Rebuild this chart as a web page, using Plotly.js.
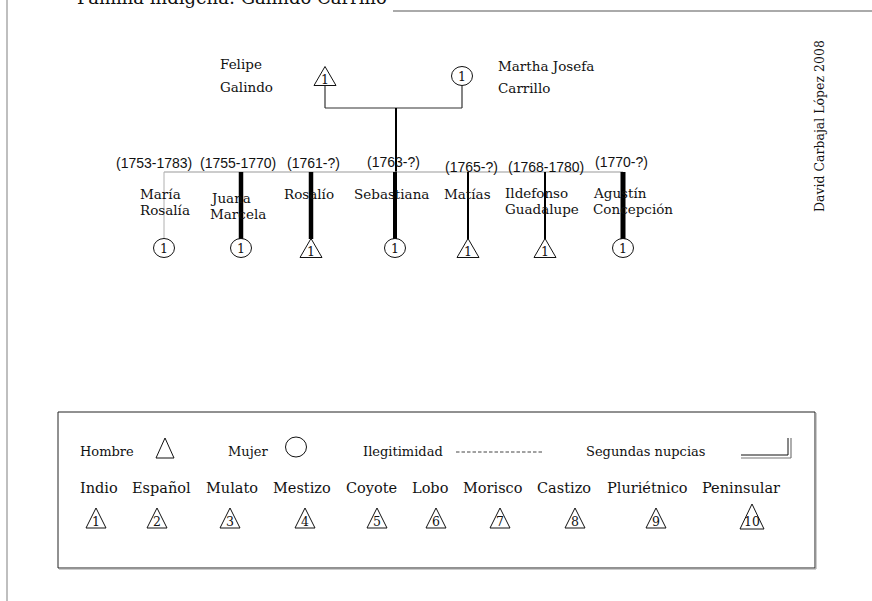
<!DOCTYPE html>
<html><head><meta charset="utf-8">
<script src="https://cdn.plot.ly/plotly-3.0.1.min.js"></script>
<style>html,body{margin:0;padding:0;background:#fff}#chart{width:872px;height:601px}</style>
</head><body><div id="chart"></div>
<script>
// ---- data ----
const titleText = "Familia indígena: Galindo Carrillo";
const author = "David Carbajal López 2008";
const parentNames = [["Felipe","Galindo"],["Martha Josefa","Carrillo"]];
const parentSex = ["H","M"];
const parentCaste = [1,1];
const childNames = [["María","Rosalía"],["Juana","Marcela"],["Rosalío"],["Sebastiana"],["Matías"],["Ildefonso","Guadalupe"],["Agustín","Concepción"]];
const childDates = ["(1753-1783)","(1755-1770)","(1761-?)","(1763-?)","(1765-?)","(1768-1780)","(1770-?)"];
const childSex = ["M","M","H","M","H","H","M"];
const childCaste = [1,1,1,1,1,1,1];
const keyLabels = ["Hombre","Mujer","Ilegitimidad","Segundas nupcias"];
const casteNames = ["Indio","Español","Mulato","Mestizo","Coyote","Lobo","Morisco","Castizo","Pluriétnico","Peninsular"];
const casteCodes = [1,2,3,4,5,6,7,8,9,10];

// ---- layout constants (positions / styles) ----
const SERIF = "DejaVu Serif";
const SANS = "Liberation Sans";
const parentX = [325, 462];
const parentY = 76;
const parentLabelX = [218, 496];
const parentLabelY = [[64, 87],[66, 88]];
const sibY = 172, coupleY = 108;
const childX = [164,241,311,395,468,545,623];
const childSymY = 248;
const childLineW = [1,4.5,4.5,4,2,2,5];
const childLineC = ["#b0b0b0","#000","#000","#000","#000","#000","#000"];
const nameX = [138,208,282,352,442,503,591];
const nameY = [194,198,194,194,194,193,193];
const dateX = [154,238,313,393,471,546,621];
const dateY = [163,163,163,162,167,167,162];
const keyX = [78,226,361,584];
const keyY = 451;
const casteX = [78,130,204,271,344,410,461,535,605,700];
const casteY = 488;
const casteTriX = [96,157,230,305,377,436,500,575,656,752];
const casteTriY = 518;

const shapes = [];
const ann = [];

function tri(cx, cy, hw, hh, w, c) {
  shapes.push({type:"path", xref:"x", yref:"y",
    path:`M ${cx-hw},${cy+hh} L ${cx+hw},${cy+hh} L ${cx},${cy-hh} Z`,
    line:{color:c||"#111", width:w||1}});
}
function ell(cx, cy, rx, ry, w) {
  shapes.push({type:"circle", xref:"x", yref:"y", x0:cx-rx, x1:cx+rx, y0:cy-ry, y1:cy+ry,
    line:{color:"#111", width:w||1}});
}
function seg(x0,y0,x1,y1,w,c,dash) {
  shapes.push({type:"line", xref:"x", yref:"y", x0:x0, y0:y0, x1:x1, y1:y1,
    line:{color:c, width:w, dash:dash||"solid"}});
}
function txt(x, y, t, size, fam, xa, extra) {
  ann.push(Object.assign({xref:"x", yref:"y", x:x, y:y, text:t, showarrow:false,
    xanchor:xa||"left", yanchor:"middle", font:{family:fam||SERIF, size:size, color:"#111"}}, extra||{}));
}
function person(sex, caste, cx, cy) {
  if (sex === "H") { tri(cx, cy, 11, 9.5, 1); txt(cx, cy+3, String(caste), 12.5, SERIF, "center"); }
  else { ell(cx, cy, 10.5, 9.5, 1); txt(cx, cy, String(caste), 12.5, SERIF, "center"); }
}

// frame
seg(7, 0, 7, 601, 1.5, "#aaaaaa");
seg(393, 11, 872, 11, 2, "#aaaaaa");
txt(75, 1, titleText, 18, SERIF, "left", {yshift:4});
txt(819, 126, author, 12.5, SERIF, "center", {textangle:-90});

// parents
parentSex.forEach((s,i)=>{
  person(s, parentCaste[i], parentX[i], parentY);
  parentNames[i].forEach((ln,j)=> txt(parentLabelX[i], parentLabelY[i][j], ln, 13.5));
});
seg(parentX[0], parentY+10, parentX[0], coupleY, 1.2, "#333");
seg(parentX[1], parentY+10, parentX[1], coupleY, 1.2, "#333");
seg(parentX[0], coupleY, parentX[1], coupleY, 1.2, "#333");
const midX = 396;
seg(midX, coupleY, midX, sibY, 2, "#000");

// siblings line
seg(childX[0], sibY, childX[childX.length-1], sibY, 1, "#999");

// children
childNames.forEach((nm,i)=>{
  seg(childX[i], sibY, childX[i], childSymY-9, childLineW[i], childLineC[i]);
  person(childSex[i], childCaste[i], childX[i], childSymY);
  nm.forEach((ln,j)=> txt(nameX[i], nameY[i]+16*j, ln, 13.5));
  txt(dateX[i], dateY[i], childDates[i], 14, SANS, "center");
});

// legend box
shapes.push({type:"rect", xref:"x", yref:"y", x0:58, x1:815, y0:412, y1:568, line:{color:"#222", width:1}});
seg(816, 413, 816, 569, 1, "#999");
seg(59, 569, 816, 569, 1, "#999");

// legend key row
keyLabels.forEach((k,i)=> txt(keyX[i], keyY, k, 13));
tri(165, 448, 9, 10, 1);
ell(296, 447, 10.5, 10, 1);
seg(456, 452, 542, 452, 1, "#444", "3.5px,2px");
seg(741, 455, 788, 455, 1, "#111");
seg(788, 438, 788, 455, 1, "#111");
seg(741, 458, 791, 458, 1.2, "#777");
seg(791, 438, 791, 458, 1.2, "#777");

// castes
casteNames.forEach((c,i)=>{
  txt(casteX[i], casteY, c, 14.5);
  const big = casteCodes[i] >= 10;
  tri(casteTriX[i], big ? casteTriY-1.5 : casteTriY, big?12:10, big?12.5:10, 1);
  txt(casteTriX[i], casteTriY+3, String(casteCodes[i]), 12.5, SERIF, "center");
});

const layout = {
  width:872, height:601, margin:{l:0,r:0,t:0,b:0},
  paper_bgcolor:"#fff", plot_bgcolor:"#fff", showlegend:false,
  xaxis:{range:[0,872], visible:false, fixedrange:true},
  yaxis:{range:[601,0], visible:false, fixedrange:true},
  shapes:shapes, annotations:ann
};
Plotly.newPlot("chart", [{x:[0], y:[0], mode:"markers", marker:{opacity:0}, hoverinfo:"skip"}], layout, {staticPlot:true, displayModeBar:false});
</script></body></html>
